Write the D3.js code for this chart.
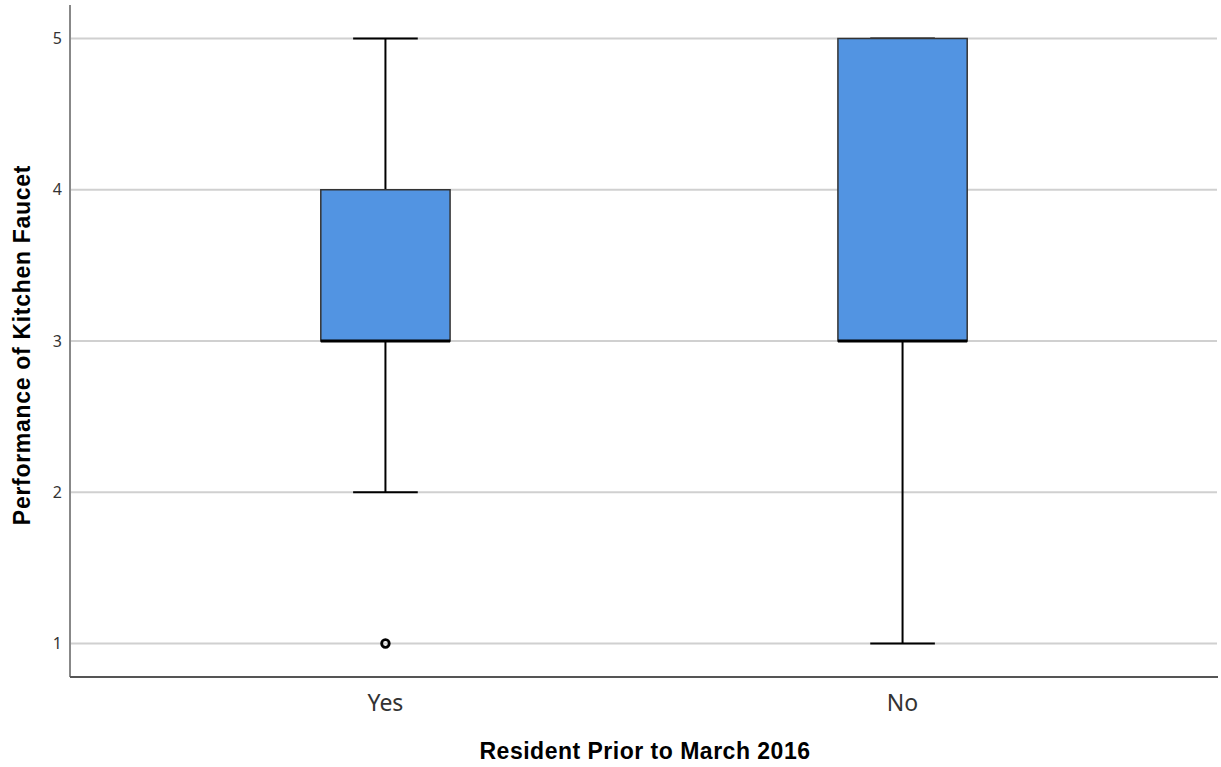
<!DOCTYPE html>
<html><head><meta charset="utf-8">
<script src="https://cdn.jsdelivr.net/npm/d3@7"></script>
<style>body{margin:0;background:#fff}svg{display:block}</style>
</head><body>
<svg id="chart" width="1221" height="767"></svg>
<script>
const categories = ["Yes", "No"];
const q1 = [3, 3];
const median = [3, 3];
const q3 = [4, 5];
const whiskerLow = [2, 1];
const whiskerHigh = [5, 5];
const outliers = [[1], []];
const yTicks = [1, 2, 3, 4, 5];
const xTitle = "Resident Prior to March 2016";
const yTitle = "Performance of Kitchen Faucet";

const svg = d3.select("#chart");
const L = 70, R = 1218, T = 5, B = 677;
const x = d3.scaleBand().domain(categories).range([L, R]).paddingInner(0.75).paddingOuter(0.485);
const y = d3.scaleLinear().domain([1, 5]).range([643.5, 38.5]);

// gridlines
svg.append("g").selectAll("line").data(yTicks).join("line")
  .attr("x1", L + 1).attr("x2", R - 1)
  .attr("y1", d => y(d)).attr("y2", d => y(d))
  .attr("stroke", "#d0d0d0").attr("stroke-width", 2);

// axes
const yAxis = svg.append("g").attr("transform", `translate(${L},0)`)
  .call(d3.axisLeft(y).tickValues(yTicks).tickFormat(d3.format("d")).tickSize(0).tickPadding(8));
yAxis.select(".domain").attr("d", `M0,${T}V${B}`).attr("stroke", "#888").attr("stroke-width", 2);
yAxis.selectAll("text").attr("font-family", "Noto Sans").attr("font-size", 16).attr("fill", "#333");

const xAxis = svg.append("g").attr("transform", `translate(0,${B})`)
  .call(d3.axisBottom(x).tickSize(0).tickPadding(0));
xAxis.select(".domain").attr("d", `M${L},0H${R}`).attr("stroke", "#555").attr("stroke-width", 2);
xAxis.selectAll("text").attr("dy", null).attr("y", 34)
  .attr("font-family", "Noto Sans").attr("font-size", 23).attr("fill", "#333");

const bw = x.bandwidth();
const g = svg.append("g");
categories.forEach((c, i) => {
  const cx = x(c) + bw / 2;
  g.append("line").attr("x1", cx).attr("x2", cx).attr("y1", y(whiskerHigh[i])).attr("y2", y(q3[i]))
    .attr("stroke", "#000").attr("stroke-width", 2);
  g.append("line").attr("x1", cx).attr("x2", cx).attr("y1", y(q1[i])).attr("y2", y(whiskerLow[i]))
    .attr("stroke", "#000").attr("stroke-width", 2);
  [whiskerHigh[i], whiskerLow[i]].forEach(v => {
    g.append("line").attr("x1", cx - bw / 4).attr("x2", cx + bw / 4).attr("y1", y(v)).attr("y2", y(v))
      .attr("stroke", "#000").attr("stroke-width", 2);
  });
  g.append("rect").attr("x", x(c)).attr("width", bw)
    .attr("y", y(q3[i])).attr("height", y(q1[i]) - y(q3[i]))
    .attr("fill", "#5294e2").attr("stroke", "#333").attr("stroke-width", 1.5);
  g.append("line").attr("x1", x(c)).attr("x2", x(c) + bw).attr("y1", y(median[i])).attr("y2", y(median[i]))
    .attr("stroke", "#000").attr("stroke-width", 3);
  outliers[i].forEach(v => {
    g.append("circle").attr("cx", cx).attr("cy", y(v)).attr("r", 3.8)
      .attr("fill", "none").attr("stroke", "#000").attr("stroke-width", 2.8);
  });
});

svg.append("text").attr("x", 645).attr("y", 759).attr("text-anchor", "middle")
  .attr("font-family", "Liberation Sans").attr("font-weight", "bold").attr("font-size", 23)
  .attr("letter-spacing", 0.5).attr("fill", "#000").text(xTitle);
svg.append("text").attr("transform", "translate(30,345) rotate(-90)").attr("text-anchor", "middle")
  .attr("font-family", "Liberation Sans").attr("font-weight", "bold").attr("font-size", 23)
  .attr("letter-spacing", 0.7).attr("fill", "#000").text(yTitle);
</script>
</body></html>
